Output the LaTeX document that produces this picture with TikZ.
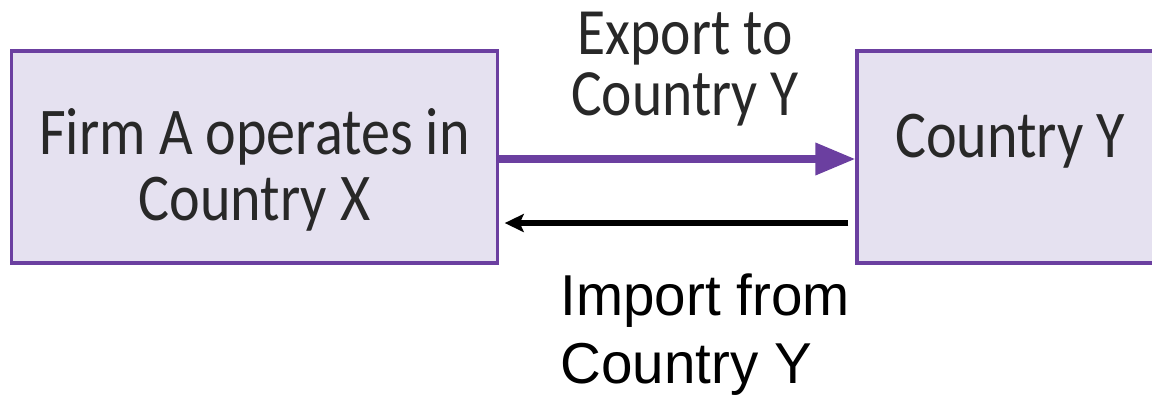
\documentclass[tikz,border=0pt]{standalone}
\usepackage{fontspec}
\usepackage{tikz}
\usetikzlibrary{arrows.meta}
\newfontfamily\boxfont[FakeStretch=0.87]{Carlito}
\newfontfamily\importfont[FakeStretch=0.98]{Liberation Sans}
\definecolor{tradepurple}{RGB}{107,63,160}
\definecolor{boxfill}{RGB}{229,225,240}
\definecolor{boxtext}{RGB}{40,40,40}

\begin{document}
\begin{tikzpicture}[x=0.01cm,y=-0.01cm,
    tradebox/.style={draw=tradepurple,line width=0.9pt,fill=boxfill,
      minimum height=2.12cm,inner sep=0pt,align=center,text=boxtext,
      font=\boxfont\fontsize{19pt}{18.5pt}\selectfont},
    exportarrow/.style={draw=tradepurple,line width=2pt,
      -{Triangle[length=0.4cm,width=0.31cm]}},
    importarrow/.style={draw=black,line width=1.6pt,
      -{Stealth[length=0.19cm,width=0.18cm,inset=0.04cm]}}]
                      \clip (0,0) rectangle (1152,394);
                      \useasboundingbox (0,0) rectangle (1152,394);
                      \node[tradebox,minimum width=4.85cm,text height=1.43cm,text depth=0.17cm] (firm) at (254.5,157) {Firm A operates in\\Country X};
                      \node[tradebox,minimum width=3.06cm,text height=0.13cm,text depth=0.13cm] (country) at (1010,157) {Country Y};
                      \draw[exportarrow] ([yshift=-0.02cm]firm.east) -- ([yshift=-0.02cm]country.west);
                      \draw[importarrow,shorten <=0.07cm,shorten >=0.06cm] ([yshift=-0.66cm]country.west) -- ([yshift=-0.66cm]firm.east);
                      \node[anchor=south,inner sep=0pt,align=center,text=boxtext,
                        font=\boxfont\fontsize{18.8pt}{17.3pt}\selectfont] (exportlbl) at (685,127) {Export to\\Country Y};
                      \node[anchor=north west,inner sep=0pt,align=left,
                        font=\importfont\fontsize{16.4pt}{19.35pt}\selectfont] (importlbl) at (560,273) {Import from\\Country Y};
                  \end{tikzpicture}
\end{document}
